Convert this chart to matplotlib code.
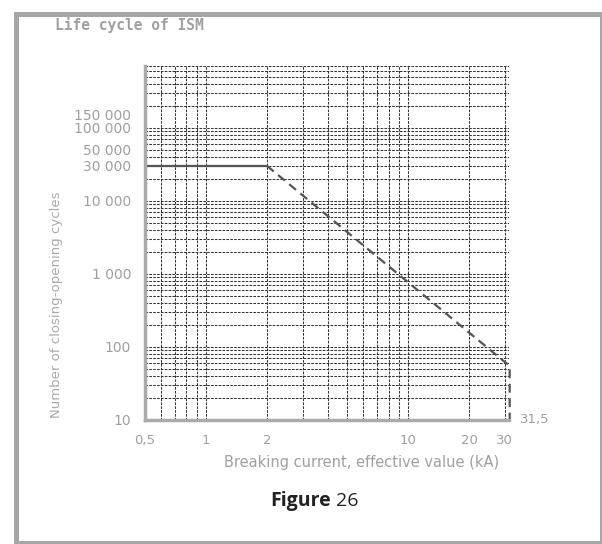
import matplotlib
matplotlib.use("Agg")
import matplotlib.pyplot as plt
import matplotlib.ticker as mticker
from matplotlib.patches import Rectangle
import numpy as np

# life curve of the switch (breaking current kA, number of cycles)
solid_x = [0.5, 2]
solid_y = [30000, 30000]
dash_x = [2, 30, 31.3, 31.7, 31.7]
dash_y = [30000, 62, 57, 50, 10]

xtick_vals = [0.5, 1, 2, 10, 20, 30]
xtick_labels = ["0,5", "1", "2", "10", "20", "30"]
ytick_vals = [10, 100, 1000, 10000, 30000, 50000, 100000, 150000]
ytick_labels = ["10", "100", "1 000", "10 000", "30 000", "50 000", "100 000", "150 000"]
xgrid_vals = [0.6, 0.7, 0.8, 0.9, 1, 2, 3, 4, 5, 6, 7, 8, 9, 10, 20, 30]

gray = "#a0a0a0"

fig = plt.figure(figsize=(6.02, 5.44), dpi=100)
ax = fig.add_axes([0.241, 0.228, 0.6047, 0.651])

ax.set_xscale("log")
ax.set_yscale("log")
ax.set_xlim(0.5, 31.5)
ax.set_ylim(10, 7e5)

# grid on every 1..9 step, kept even where it meets a labelled tick
ax.xaxis.remove_overlapping_locs = False
ax.yaxis.remove_overlapping_locs = False
ax.xaxis.set_minor_locator(mticker.FixedLocator(xgrid_vals))
ax.yaxis.set_minor_locator(mticker.LogLocator(base=10, subs=np.arange(1, 10), numticks=20))
ax.xaxis.set_minor_formatter(mticker.NullFormatter())
ax.yaxis.set_minor_formatter(mticker.NullFormatter())
ax.grid(False, which="major")
ax.grid(True, which="minor", color="#333333", linestyle=(0, (2.5, 1.2)), linewidth=0.75)

ax.set_xticks(xtick_vals)
ax.set_xticklabels(xtick_labels)
ax.set_yticks(ytick_vals)
ax.set_yticklabels(ytick_labels)
ax.tick_params(which="both", length=0)
ax.tick_params(axis="x", pad=10, labelsize=9.5, labelcolor=gray)
ax.tick_params(axis="y", pad=10, labelsize=10, labelcolor=gray)

for s in ["top", "right"]:
    ax.spines[s].set_visible(False)
for s in ["left", "bottom"]:
    ax.spines[s].set_color("#aaaaaa")
    ax.spines[s].set_linewidth(2.5)

ax.plot(solid_x, solid_y, color="#555555", linewidth=1.6, solid_capstyle="butt")
ax.plot(dash_x, dash_y, color="#555555", linewidth=1.6, linestyle=(0, (4, 2.5)), clip_on=False)

ax.text(1.03, 0.0, "31,5", transform=ax.transAxes, color=gray, fontsize=9.5,
        ha="left", va="center")

fig.text(362 / 602, 1 - 463 / 544, "Breaking current, effective value (kA)",
         color=gray, fontsize=10.5, ha="center", va="center")
fig.text(57 / 602, 1 - 305 / 544, "Number of closing-opening cycles",
         color="#aaaaaa", fontsize=9.5, rotation=90, ha="center", va="center")
fig.text(55 / 602, 1 - 25 / 544, "Life cycle of ISM", color=gray,
         fontsize=10.5, family="DejaVu Sans Mono", fontweight="bold", ha="left", va="center")

fig.text(331 / 602, 1 - 501 / 544, "Figure", color="#222222", fontsize=14,
         family="Open Sans", fontweight="bold", ha="right", va="center")
fig.text(336 / 602, 1 - 501 / 544, "26", color="#222222", fontsize=14,
         family="Open Sans", ha="left", va="center")

# frame around the figure
fig.patches.append(Rectangle((15.5 / 602, 1.5 / 544), (601.5 - 15.5) / 602, 528.5 / 544,
                             transform=fig.transFigure, fill=False,
                             edgecolor="#a6a6a6", linewidth=3.6))

fig.savefig("out.png", dpi=100)
